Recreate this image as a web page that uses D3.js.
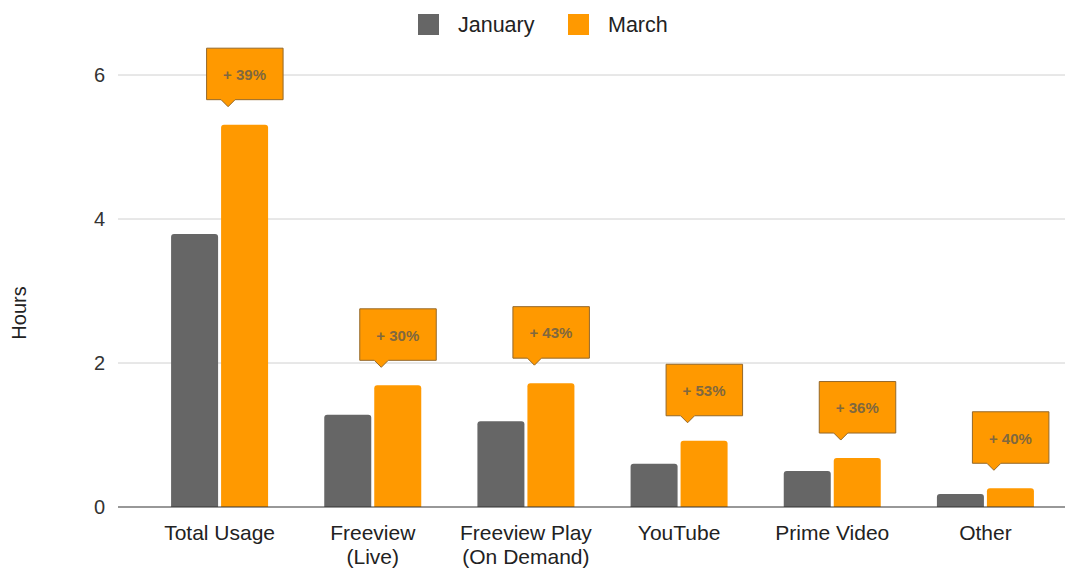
<!DOCTYPE html>
<html>
<head>
<meta charset="utf-8">
<script src="https://cdn.jsdelivr.net/npm/d3@7"></script>
<style>
  body { margin: 0; background: #fff; }
  text { font-family: "Liberation Sans", Arial, sans-serif; }
</style>
</head>
<body>
<svg width="1078" height="571"></svg>
<script>
// data
var categories = ["Total Usage", "Freeview\n(Live)", "Freeview Play\n(On Demand)", "YouTube", "Prime Video", "Other"];
var january = [3.79, 1.28, 1.19, 0.60, 0.50, 0.18];
var march   = [5.31, 1.69, 1.72, 0.92, 0.68, 0.26];
var changes = ["+ 39%", "+ 30%", "+ 43%", "+ 53%", "+ 36%", "+ 40%"];
var seriesNames = ["January", "March"];
var yTicks = [0, 2, 4, 6];

var colors = { January: "#666666", March: "#ff9900" };

var svg = d3.select("svg");

var x = d3.scaleBand()
    .domain(categories)
    .range([143, 1062]);

var inner = d3.scaleBand()
    .domain(seriesNames)
    .range([0, 97])
    .paddingInner(0.06);

var y = d3.scaleLinear()
    .domain([0, 6])
    .range([507, 75]);

// gridlines
svg.append("g")
  .selectAll("line")
  .data(yTicks.filter(function(d) { return d > 0; }))
  .enter().append("line")
    .attr("x1", 118).attr("x2", 1065)
    .attr("y1", function(d) { return y(d); })
    .attr("y2", function(d) { return y(d); })
    .attr("stroke", "#d0d0d0")
    .attr("stroke-width", 1);

// y tick labels
svg.append("g")
  .selectAll("text")
  .data(yTicks)
  .enter().append("text")
    .attr("x", 105)
    .attr("y", function(d) { return y(d); })
    .attr("dy", "0.35em")
    .attr("text-anchor", "end")
    .attr("font-size", 20)
    .attr("fill", "#333")
    .text(function(d) { return d; });

// y axis title
svg.append("text")
    .attr("transform", "translate(26,313) rotate(-90)")
    .attr("text-anchor", "middle")
    .attr("font-size", 20)
    .attr("fill", "#222")
    .text("Hours");

// rounded-top bar path
function barPath(x0, w, yTop, yBase, r) {
  r = Math.min(r, (yBase - yTop) / 2, w / 2);
  return "M" + x0 + "," + yBase +
    "V" + (yTop + r) +
    "Q" + x0 + "," + yTop + " " + (x0 + r) + "," + yTop +
    "H" + (x0 + w - r) +
    "Q" + (x0 + w) + "," + yTop + " " + (x0 + w) + "," + (yTop + r) +
    "V" + yBase + "Z";
}

var groups = svg.append("g")
  .selectAll("g")
  .data(categories)
  .enter().append("g")
    .attr("transform", function(d) {
      return "translate(" + (x(d) + x.bandwidth() / 2 - 48.5) + ",0)";
    });

groups.selectAll("path")
  .data(function(d, i) {
    return [{ s: "January", v: january[i] }, { s: "March", v: march[i] }];
  })
  .enter().append("path")
    .attr("fill", function(d) { return colors[d.s]; })
    .attr("d", function(d) {
      return barPath(inner(d.s), inner.bandwidth(), y(d.v), y(0), 3);
    });

// baseline
svg.append("line")
    .attr("x1", 118).attr("x2", 1065)
    .attr("y1", y(0)).attr("y2", y(0))
    .attr("stroke", "#333")
    .attr("stroke-width", 1.2);

// x labels
var xl = svg.append("g")
  .selectAll("text")
  .data(categories)
  .enter().append("text")
    .attr("x", function(d) { return x(d) + x.bandwidth() / 2; })
    .attr("y", 540)
    .attr("text-anchor", "middle")
    .attr("font-size", 21)
    .attr("fill", "#222");

xl.selectAll("tspan")
  .data(function(d) { return d.split("\n"); })
  .enter().append("tspan")
    .attr("x", function() { return d3.select(this.parentNode).attr("x"); })
    .attr("dy", function(d, i) { return i === 0 ? 0 : 24; })
    .text(function(d) { return d; });

// callouts
var boxW = 77, boxH = 52;
var callouts = svg.append("g")
  .selectAll("g")
  .data(categories)
  .enter().append("g")
    .attr("transform", function(d, i) {
      var cx = x(d) + x.bandwidth() / 2 - 48.5 + inner("March") + inner.bandwidth() / 2;
      var bottom = y(march[i]) - 25;
      return "translate(" + (cx - boxW / 2) + "," + (bottom - boxH) + ")";
    });

callouts.append("path")
    .attr("d", "M0.5,0.5H" + boxW + "V" + boxH + "H29L22," + (boxH + 7) + "L15," + boxH + "H0.5Z")
    .attr("fill", "#ff9900")
    .attr("stroke", "#94682a")
    .attr("stroke-width", 1);

callouts.append("text")
    .attr("x", boxW / 2)
    .attr("y", 27)
    .attr("dy", "0.35em")
    .attr("text-anchor", "middle")
    .attr("font-size", 15)
    .attr("font-weight", "bold")
    .attr("fill", "#80683f")
    .text(function(d, i) { return changes[i]; });

// legend
var legend = svg.append("g")
  .selectAll("g")
  .data(seriesNames)
  .enter().append("g")
    .attr("transform", function(d, i) { return "translate(" + (418 + i * 150) + ",14)"; });

legend.append("rect")
    .attr("width", 21).attr("height", 21)
    .attr("fill", function(d) { return colors[d]; });

legend.append("text")
    .attr("x", 40)
    .attr("y", 18)
    .attr("font-size", 21.5)
    .attr("fill", "#222")
    .text(function(d) { return d; });
</script>
</body>
</html>
